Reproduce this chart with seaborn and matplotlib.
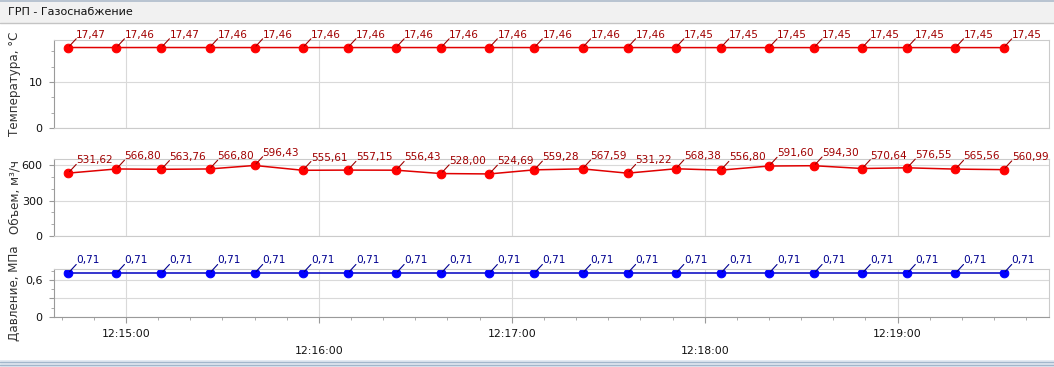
import matplotlib

matplotlib.use("Agg")
import matplotlib.pyplot as plt  # noqa: E402
import matplotlib.dates as mdates  # noqa: E402
from matplotlib.lines import Line2D  # noqa: E402
from matplotlib.patches import Rectangle  # noqa: E402
from matplotlib.ticker import MultipleLocator  # noqa: E402
import pandas as pd  # noqa: E402
import seaborn as sns  # noqa: E402

sns.set_theme(style="white")
plt.rcParams["font.family"] = ["DejaVu Sans"]

# --- data ---
times = [
    "12:14:42", "12:14:57", "12:15:11", "12:15:26", "12:15:40", "12:15:55",
    "12:16:09", "12:16:24", "12:16:38", "12:16:53", "12:17:07", "12:17:22",
    "12:17:36", "12:17:51", "12:18:05", "12:18:20", "12:18:34", "12:18:49",
    "12:19:03", "12:19:18", "12:19:33",
]
temperature = [
    17.47, 17.46, 17.47, 17.46, 17.46, 17.46, 17.46, 17.46, 17.46, 17.46, 17.46,
    17.46, 17.46, 17.45, 17.45, 17.45, 17.45, 17.45, 17.45, 17.45, 17.45,
]
volume = [
    531.62, 566.80, 563.76, 566.80, 596.43, 555.61, 557.15, 556.43, 528.00, 524.69,
    559.28, 567.59, 531.22, 568.38, 556.80, 591.60, 594.30, 570.64, 576.55, 565.56,
    560.99,
]
pressure = [0.71] * 21

x_range = ("12:14:37.6", "12:19:47.1")
x_ticks = ["12:15:00", "12:16:00", "12:17:00", "12:18:00", "12:19:00"]

temp_yticks, temp_ylabels = [0, 10], ["0", "10"]
vol_yticks, vol_ylabels = [0, 300, 600], ["0", "300", "600"]
pres_yticks, pres_ylabels = [0, 0.3, 0.6], ["0", "", "0,6"]

DAY = "2024-01-01 "
df = pd.DataFrame({
    "time": pd.to_datetime([DAY + t for t in times]),
    "temperature": temperature,
    "volume": volume,
    "pressure": pressure,
})

W, H = 1054, 367
fig = plt.figure(figsize=(W / 100, H / 100), dpi=100)

# window title strip
fig.add_artist(Rectangle((0, 1 - 23 / H), 1, 23 / H, transform=fig.transFigure,
                         facecolor="#F1F1F1", edgecolor="none"))
fig.add_artist(Line2D([0, 1], [1 - 23 / H] * 2, transform=fig.transFigure,
                      color="#C4C4C4", lw=1))
fig.add_artist(Line2D([0, 1], [1 - 0.7 / H] * 2, transform=fig.transFigure,
                      color="#AEBBCB", lw=1.2))
fig.text(8 / W, 1 - 12 / H, "ГРП - Газоснабжение", fontsize=8, color="#111111",
         ha="left", va="center")

# bottom border
fig.add_artist(Rectangle((0, 0), 1, 7 / H, transform=fig.transFigure,
                         facecolor="#E3EAF2", edgecolor="none"))
for yy in (5.5, 2.0):
    fig.add_artist(Line2D([0, 1], [yy / H] * 2, transform=fig.transFigure,
                          color="#A2B6CB", lw=1))

panels = [
    # column, ylabel, top px, bottom px, ylim, yticks, labels, minor, line, marker, text
    ("temperature", "Температура, °С", 40, 128, (0, 19.1), temp_yticks, temp_ylabels,
     10 / 3, "#E00000", "#FF0000", "#A00000"),
    ("volume", "Объем, м³/ч", 159, 236, (0, 651), vol_yticks, vol_ylabels,
     100, "#E00000", "#FF0000", "#A00000"),
    ("pressure", "Давление, МПа", 269, 317, (0, 0.778), pres_yticks, pres_ylabels,
     0.15, "#0000C0", "#0000FF", "#000090"),
]

xmin = mdates.date2num(pd.Timestamp(DAY + x_range[0]))
xmax = mdates.date2num(pd.Timestamp(DAY + x_range[1]))
xtick_pos = [mdates.date2num(pd.Timestamp(DAY + t)) for t in x_ticks]
xtick_lab = [("\n" + t) if i % 2 else t for i, t in enumerate(x_ticks)]

for i, (col, label, top, bottom, ylim, yt, yl, minor, lc, mc, tc) in enumerate(panels):
    ax = fig.add_axes([54 / W, (H - bottom) / H, 995 / W, (bottom - top) / H])
    sns.lineplot(data=df, x="time", y=col, ax=ax, color=lc, linewidth=1.1,
                 marker="o", markersize=6.2, markerfacecolor=mc, markeredgecolor=mc)
    for t, v in zip(df["time"], df[col]):
        ax.annotate(f"{v:.2f}".replace(".", ","), xy=(mdates.date2num(t), v),
                    xytext=(5.8, 7.0), textcoords="offset points", fontsize=7.6,
                    color=tc, ha="left", va="baseline", annotation_clip=False,
                    arrowprops=dict(arrowstyle="-", color=tc, lw=0.8, patchA=None,
                                    shrinkA=0, shrinkB=1.5, relpos=(0, 0.1)))

    ax.set_xlim(xmin, xmax)
    ax.set_ylim(*ylim)
    ax.set_yticks(yt, labels=yl)
    ax.yaxis.set_minor_locator(MultipleLocator(minor))
    ax.set_xticks(xtick_pos)
    ax.xaxis.set_minor_locator(mdates.SecondLocator(bysecond=range(0, 60, 10)))
    ax.grid(True, which="major", color="#D9D9D9", linewidth=0.8)
    if col == "pressure":
        ax.set_xticklabels(xtick_lab)
        for lbl in ax.get_xticklabels():
            lbl.set_linespacing(1.85)
        ax.tick_params(axis="x", which="major", bottom=True, length=4.5, width=0.8,
                       color="#9A9A9A", labelsize=7.8, labelcolor="#111111", pad=4)
        ax.tick_params(axis="x", which="minor", bottom=True, length=2.2, width=0.7,
                       color="#AAAAAA")
    else:
        ax.tick_params(axis="x", which="both", bottom=False, labelbottom=False)

    ax.tick_params(axis="y", which="major", left=True, length=3.6, width=0.8,
                   color="#9A9A9A", labelsize=8, labelcolor="#111111", pad=4.5)
    ax.tick_params(axis="y", which="minor", left=True, length=2.2, width=0.7,
                   color="#AAAAAA")

    ax.set_xlabel("")
    ax.set_ylabel(label, fontsize=8.6, color="#333333")
    ax.yaxis.set_label_coords(-0.033, 0.5)

    for side in ("top", "right", "bottom"):
        ax.spines[side].set_color("#CBCBCB")
        ax.spines[side].set_linewidth(0.8)
    ax.spines["left"].set_color("#9A9A9A")
    ax.spines["left"].set_linewidth(0.8)
    if col == "pressure":
        ax.spines["bottom"].set_color("#9A9A9A")

fig.savefig("out.png", dpi=100)
